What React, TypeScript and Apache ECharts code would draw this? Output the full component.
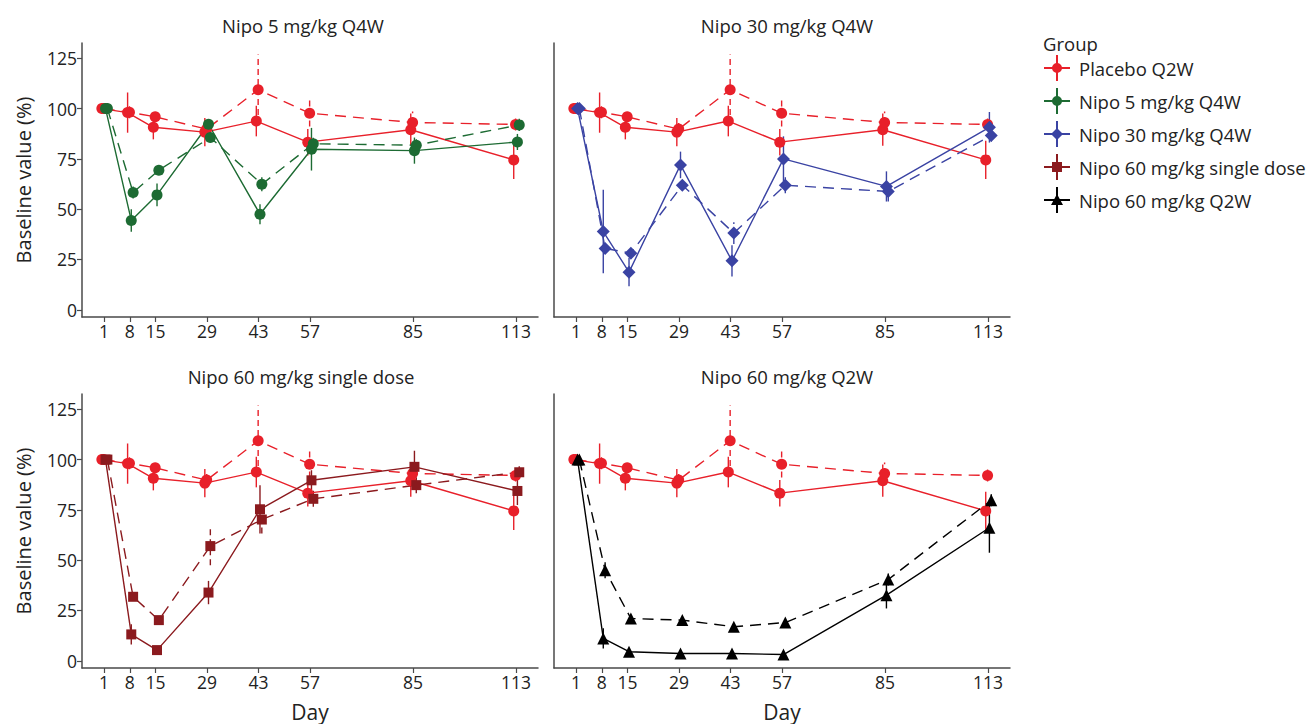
import React, { useEffect, useRef } from "react";
import * as echarts from "echarts";

const DAYS = [1, 8, 15, 29, 43, 57, 85, 113];
const Y_TICKS = [0, 25, 50, 75, 100, 125];

const GROUPS = [
  "Placebo Q2W",
  "Nipo 5 mg/kg Q4W",
  "Nipo 30 mg/kg Q4W",
  "Nipo 60 mg/kg single dose",
  "Nipo 60 mg/kg Q2W",
];
const COLORS = ["#e8202a", "#1d6b33", "#3a43a3", "#8b1a1e", "#000000"];

// Placebo (shown in every panel)
const placeboSolid = [100, 98.0, 90.7, 88.3, 93.8, 83.3, 89.5, 74.5];
const placeboSolidErr = [0, 10, 6, 7, 7.6, 6.6, 8, 9.5];
const placeboDashed = [100, 98.2, 95.9, 89.8, 109.4, 97.7, 93.1, 92.1];
const placeboDashedErr = [0, 3, 2, 3, 17.5, 6.6, 5.4, 3];

// Nipo 5 mg/kg Q4W
const nipo5Solid = [100, 44.4, 57.1, 92.2, 47.5, 79.8, 79.1, 83.4];
const nipo5SolidErr = [0, 5.6, 5.6, 2, 5, 10.6, 6.5, 4];
const nipo5Dashed = [100, 58.3, 69.4, 85.6, 62.4, 82.5, 81.8, 91.9];
const nipo5DashedErr = [0, 3, 2, 2, 3.5, 3, 3, 3];

// Nipo 30 mg/kg Q4W
const nipo30Solid = [100, 38.9, 18.7, 72.0, 24.3, 75.0, 61.3, 90.7];
const nipo30SolidErr = [0, 20.7, 7, 6.6, 7.8, 11.2, 7.5, 7.6];
const nipo30Dashed = [100, 30.5, 28.1, 61.9, 38.1, 61.9, 58.8, 86.6];
const nipo30DashedErr = [0, 2, 2, 2, 5.4, 4, 5, 3];

// Nipo 60 mg/kg single dose
const nipo60sSolid = [100, 13.1, 5.3, 33.9, 75.3, 89.7, 96.4, 84.4];
const nipo60sSolidErr = [0, 5, 1, 5.8, 12, 5, 8, 7];
const nipo60sDashed = [100, 31.8, 20.2, 57.0, 70.2, 80.5, 87.3, 93.7];
const nipo60sDashedErr = [0, 2, 1, 9.5, 7, 4, 4, 3];

// Nipo 60 mg/kg Q2W
const nipo60qSolid = [100, 11.1, 4.5, 3.6, 3.6, 3.1, 32.6, 66.1];
const nipo60qSolidErr = [0, 5, 1, 1, 1, 1, 6.6, 12.4];
const nipo60qDashed = [100, 45.0, 21.0, 20.2, 16.9, 19.0, 40.4, 79.8];
const nipo60qDashedErr = [0, 4, 1.5, 1.5, 1.5, 1.5, 3, 3];

const PANEL_TITLES = [
  "Nipo 5 mg/kg Q4W",
  "Nipo 30 mg/kg Q4W",
  "Nipo 60 mg/kg single dose",
  "Nipo 60 mg/kg Q2W",
];

const PANELS = [
  { group: 1, solid: nipo5Solid, solidErr: nipo5SolidErr, dashed: nipo5Dashed, dashedErr: nipo5DashedErr, symbol: "circle", size: 11 },
  { group: 2, solid: nipo30Solid, solidErr: nipo30SolidErr, dashed: nipo30Dashed, dashedErr: nipo30DashedErr, symbol: "diamond", size: 13 },
  { group: 3, solid: nipo60sSolid, solidErr: nipo60sSolidErr, dashed: nipo60sDashed, dashedErr: nipo60sDashedErr, symbol: "rect", size: 10 },
  { group: 4, solid: nipo60qSolid, solidErr: nipo60qSolidErr, dashed: nipo60qDashed, dashedErr: nipo60qDashedErr, symbol: "triangle", size: 12 },
];

const FONT = "'Open Sans', 'Noto Sans', sans-serif";
const AXIS_COLOR = "#4a4a4a";
const TEXT_COLOR = "#222";
const DASH = [11, 7];

const GRID_POS = [
  { left: 82, top: 43 },
  { left: 554, top: 43 },
  { left: 82, top: 394 },
  { left: 554, top: 394 },
];
const TITLE_POS = [
  { x: 298, y: 11 },
  { x: 782, y: 11 },
  { x: 296, y: 362 },
  { x: 782, y: 362 },
];

// small horizontal dodge so that overlapping groups are visible
const DODGE = { pSolid: -0.6, pDashed: -0.1, dSolid: 0.4, dDashed: 0.9 };

function lineSeries(name, values, offset, color, dashed, symbol, size, idx) {
  return {
    type: "line",
    name,
    xAxisIndex: idx,
    yAxisIndex: idx,
    data: DAYS.map((d, i) => [d + offset, values[i]]),
    symbol,
    symbolSize: size,
    showSymbol: true,
    itemStyle: { color },
    lineStyle: { color, width: 1.4, type: dashed ? DASH : "solid" },
    z: 3,
  };
}

function errSeries(name, values, errs, offset, color, dashed, idx) {
  return {
    type: "custom",
    name,
    xAxisIndex: idx,
    yAxisIndex: idx,
    data: DAYS.map((d, i) => [d + offset, values[i] - errs[i], values[i] + errs[i]]),
    encode: { x: 0, y: [1, 2] },
    renderItem: (params, api) => {
      const x = api.value(0);
      const p1 = api.coord([x, api.value(1)]);
      const p2 = api.coord([x, api.value(2)]);
      return {
        type: "line",
        shape: { x1: p1[0], y1: p1[1], x2: p2[0], y2: p2[1] },
        style: { stroke: color, lineWidth: 1.4, lineDash: dashed ? [6, 4] : null },
      };
    },
    z: 2,
  };
}

const LEGEND_CROSS = "M0,12h26v2H0z M12,0h2v26h-2z ";
const LEGEND_ICONS = [
  "path://" + LEGEND_CROSS + "M13,8a5,5 0 1 1 0,10a5,5 0 1 1 0,-10z",
  "path://" + LEGEND_CROSS + "M13,8a5,5 0 1 1 0,10a5,5 0 1 1 0,-10z",
  "path://" + LEGEND_CROSS + "M13,7L19,13L13,19L7,13z",
  "path://" + LEGEND_CROSS + "M8,8h10v10H8z",
  "path://" + LEGEND_CROSS + "M13,7L19,18L7,18z",
];

export default function App() {
  const ref = useRef<HTMLDivElement>(null);

  useEffect(() => {
    if (!ref.current) return;
    const chart = echarts.init(ref.current, null, { renderer: "svg" });

    const grids = GRID_POS.map((g) => ({ left: g.left, top: g.top, width: 456, height: 274 }));

    const xAxes = GRID_POS.map((_, i) => ({
      type: "value",
      gridIndex: i,
      min: -5,
      max: 119,
      splitLine: { show: false },
      axisLine: { show: true, onZero: false, lineStyle: { color: AXIS_COLOR, width: 1.5 } },
      axisTick: { show: true, customValues: DAYS, length: 5, lineStyle: { color: AXIS_COLOR, width: 1.2 } },
      axisLabel: { customValues: DAYS, color: TEXT_COLOR, fontSize: 17.5, fontFamily: FONT, margin: 5 },
      name: i >= 2 ? "Day" : "",
      nameLocation: "middle",
      nameGap: 33,
      nameTextStyle: { fontSize: 21, fontFamily: FONT, color: TEXT_COLOR },
    }));

    const yAxes = GRID_POS.map((_, i) => {
      const left = i % 2 === 0;
      return {
        type: "value",
        gridIndex: i,
        min: -3.6,
        max: 132.6,
        splitLine: { show: false },
        axisLine: { show: true, onZero: false, lineStyle: { color: AXIS_COLOR, width: 1.5 } },
        axisTick: { show: left, customValues: Y_TICKS, length: 5, lineStyle: { color: AXIS_COLOR, width: 1.2 } },
        axisLabel: {
          show: left,
          customValues: Y_TICKS,
          color: TEXT_COLOR,
          fontSize: 17.5,
          fontFamily: FONT,
          margin: 5,
          padding: [0, 0, 6, 0],
        },
        name: left ? "Baseline value (%)" : "",
        nameLocation: "middle",
        nameGap: 49,
        nameTextStyle: { fontSize: 20, fontFamily: FONT, color: TEXT_COLOR },
      };
    });

    const series: any[] = [];
    PANELS.forEach((p, idx) => {
      const pc = COLORS[0];
      const dc = COLORS[p.group];
      const dn = GROUPS[p.group];
      series.push(errSeries(GROUPS[0], placeboSolid, placeboSolidErr, DODGE.pSolid, pc, false, idx));
      series.push(errSeries(GROUPS[0], placeboDashed, placeboDashedErr, DODGE.pDashed, pc, true, idx));
      series.push(lineSeries(GROUPS[0], placeboSolid, DODGE.pSolid, pc, false, "circle", 11, idx));
      series.push(lineSeries(GROUPS[0], placeboDashed, DODGE.pDashed, pc, true, "circle", 11, idx));
      series.push(errSeries(dn, p.solid, p.solidErr, DODGE.dSolid, dc, false, idx));
      series.push(errSeries(dn, p.dashed, p.dashedErr, DODGE.dDashed, dc, true, idx));
      series.push(lineSeries(dn, p.solid, DODGE.dSolid, dc, false, p.symbol, p.size, idx));
      series.push(lineSeries(dn, p.dashed, DODGE.dDashed, dc, true, p.symbol, p.size, idx));
    });

    const titles: any[] = PANEL_TITLES.map((t, i) => ({
      text: t,
      left: TITLE_POS[i].x,
      top: TITLE_POS[i].y,
      textAlign: "center",
      textStyle: { fontSize: 18.5, fontWeight: "normal", fontFamily: FONT, color: TEXT_COLOR },
    }));
    titles.push({
      text: "Group",
      left: 1038,
      top: 29,
      textStyle: { fontSize: 18.5, fontWeight: "normal", fontFamily: FONT, color: TEXT_COLOR },
    });

    chart.setOption({
      animation: false,
      backgroundColor: "#ffffff",
      title: titles,
      grid: grids,
      xAxis: xAxes,
      yAxis: yAxes,
      legend: {
        orient: "vertical",
        left: 1039,
        top: 50,
        itemWidth: 26,
        itemHeight: 26,
        itemGap: 7,
        selectedMode: false,
        data: GROUPS.map((g, i) => ({ name: g, icon: LEGEND_ICONS[i], itemStyle: { color: COLORS[i] } })),
        textStyle: { fontSize: 18.5, fontFamily: FONT, color: TEXT_COLOR, padding: [0, 0, 0, 4] },
      },
      series,
    });

    return () => chart.dispose();
  }, []);

  return (
    <div
      ref={ref}
      style={{ position: "fixed", left: 0, top: 0, width: 1310, height: 724, background: "#fff" }}
    />
  );
}
